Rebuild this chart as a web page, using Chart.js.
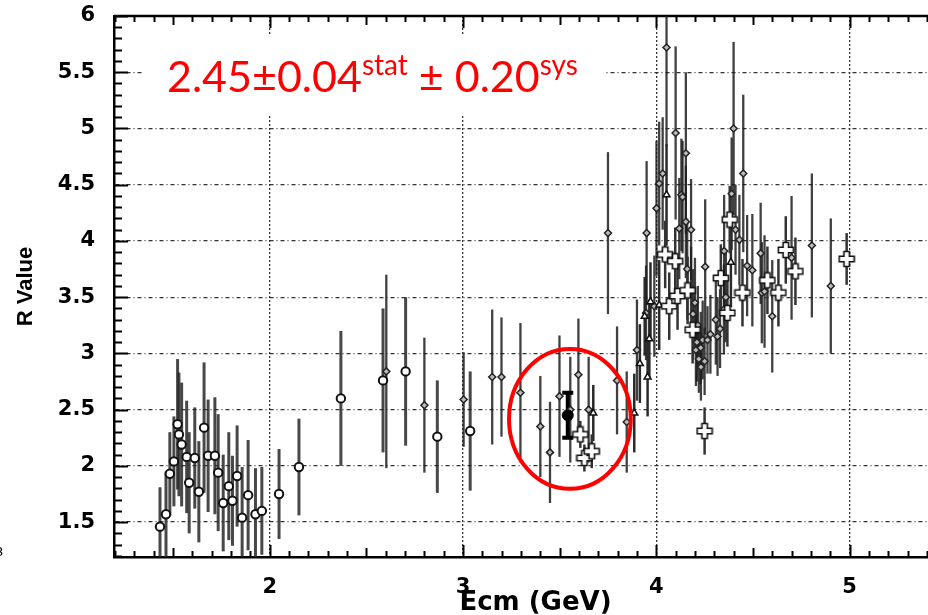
<!DOCTYPE html>
<html lang="en">
<head>
<meta charset="UTF-8">
<title>R Value vs Ecm</title>
<script src="https://cdn.jsdelivr.net/npm/chart.js"></script>
<style>
  html, body { margin: 0; padding: 0; overflow: hidden; background: #fff; }
  .wrap { position: relative; width: 966px; height: 625px; }
  .cut { position: absolute; left: -5px; top: 544px; font: 13px "DejaVu Sans"; color: #000; }
</style>
</head>
<body>
<div class="wrap">
  <canvas id="rChart" width="966" height="625"></canvas>
  <span class="cut">8</span>
</div>
<script>
// axis ranges and ticks
const xMin = 1.194, xMax = 5.556;
const yMin = 1.19, yMax = 6;
const xTicks = [2, 3, 4, 5];
const yTicks = [1.5, 2, 2.5, 3, 3.5, 4, 4.5, 5, 5.5, 6];

// open circles
const circleE = [1.432, 1.463, 1.483, 1.504, 1.523, 1.530, 1.544, 1.570, 1.583, 1.612, 1.633, 1.660, 1.681, 1.716, 1.733,
  1.759, 1.788, 1.807, 1.831, 1.857, 1.888, 1.926, 1.959, 2.048, 2.151, 2.368, 2.586, 2.703, 2.867, 3.037];
const circleR = [1.46, 1.57, 1.93, 2.04, 2.37, 2.28, 2.19, 2.08, 1.85, 2.07, 1.77, 2.34, 2.09, 2.09, 1.94,
  1.67, 1.82, 1.69, 1.91, 1.54, 1.74, 1.57, 1.60, 1.75, 1.99, 2.60, 2.76, 2.84, 2.26, 2.31];
const circleErr = [0.35, 0.38, 0.37, 0.40, 0.58, 0.55, 0.55, 0.50, 0.45, 0.45, 0.45, 0.58, 0.50, 0.52, 0.52,
  0.43, 0.48, 0.40, 0.45, 0.45, 0.49, 0.41, 0.39, 0.40, 0.43, 0.60, 0.64, 0.66, 0.50, 0.53];

// small diamonds
const diamondE = [2.603, 2.800, 3.003, 3.151, 3.199, 3.297, 3.400, 3.450, 3.499, 3.555, 3.597, 3.650, 3.750, 3.797, 3.847,
  3.900, 3.947, 3.950, 3.990, 4.001, 4.015, 4.033, 4.053, 4.100, 4.119, 4.130, 4.136, 4.153, 4.153, 4.160,
  4.180, 4.180, 4.190, 4.200, 4.205, 4.210, 4.215, 4.220, 4.230, 4.231, 4.240, 4.250, 4.253, 4.265, 4.280,
  4.308, 4.317, 4.330, 4.350, 4.351, 4.360, 4.390, 4.400, 4.410, 4.430, 4.450, 4.470, 4.497, 4.540, 4.546,
  4.560, 4.600, 4.700, 4.805, 4.903];
const diamondR = [2.84, 2.54, 2.59, 2.79, 2.79, 2.65, 2.35, 2.12, 2.62, 2.50, 2.81, 2.50, 4.07, 2.76, 2.39,
  3.03, 3.36, 4.07, 3.42, 4.29, 4.51, 4.60, 5.72, 4.96, 4.11, 4.41, 4.39, 4.78, 4.17, 3.75,
  4.10, 3.55, 3.35, 3.45, 3.03, 3.10, 3.25, 2.95, 3.05, 2.88, 3.12, 2.93, 3.77, 3.12, 3.17,
  3.30, 3.15, 3.22, 3.39, 3.91, 3.50, 4.42, 5.00, 4.10, 4.01, 4.60, 3.78, 3.74, 3.89, 3.54,
  3.55, 3.33, 3.85, 3.96, 3.60];
const diamondErr = [0.86, 0.60, 0.42, 0.60, 0.53, 0.62, 0.45, 0.45, 0.54, 0.47, 0.50, 0.47, 0.72, 0.48, 0.45,
  0.45, 0.42, 0.64, 0.45, 0.60, 0.55, 0.50, 0.88, 0.77, 0.45, 0.50, 0.50, 0.72, 0.50, 0.45,
  0.45, 0.40, 0.40, 0.40, 0.32, 0.35, 0.35, 0.30, 0.32, 0.30, 0.35, 0.30, 0.60, 0.30, 0.35,
  0.40, 0.35, 0.35, 0.40, 0.50, 0.40, 0.50, 0.77, 0.40, 0.40, 0.70, 0.45, 0.50, 0.45, 0.45,
  0.50, 0.50, 0.55, 0.64, 0.60];

// small triangles
const triE = [3.674, 3.886, 3.915, 3.940, 3.955, 3.964, 3.970, 4.015, 4.053, 4.386];
const triR = [2.47, 2.47, 2.91, 3.33, 2.79, 3.13, 3.46, 3.43, 4.41, 3.81];
const triErr = [0.25, 0.35, 0.35, 0.35, 0.35, 0.35, 0.35, 0.40, 0.45, 0.40];

// open crosses
const crossE = [3.607, 3.628, 3.666, 4.046, 4.067, 4.098, 4.110, 4.162, 4.188, 4.250,
  4.334, 4.368, 4.380, 4.446, 4.575, 4.632, 4.670, 4.720, 4.985];
const crossR = [2.28, 2.07, 2.13, 3.88, 3.42, 3.82, 3.51, 3.56, 3.21, 2.31,
  3.67, 3.36, 4.19, 3.54, 3.65, 3.54, 3.92, 3.73, 3.84];
const crossErr = [0.12, 0.12, 0.15, 0.30, 0.30, 0.30, 0.30, 0.30, 0.30, 0.21,
  0.30, 0.30, 0.30, 0.30, 0.30, 0.30, 0.30, 0.30, 0.23];

// the new measurement
const newE = [3.542];
const newR = [2.45];
const newErr = [0.20];

// red ring round the new point (data units)
const ringE = 3.553, ringR = 2.418, ringHalfE = 0.315, ringHalfR = 0.622;

function pts(xs, ys) {
  return xs.map((x, i) => ({ x: x, y: ys[i] }));
}

function plusMarker() {
  const c = document.createElement('canvas');
  c.width = 18; c.height = 18;
  const g = c.getContext('2d');
  const s = 9, L = 7.5, w = 2.7;
  g.beginPath();
  g.moveTo(s - w, s - L); g.lineTo(s + w, s - L); g.lineTo(s + w, s - w); g.lineTo(s + L, s - w);
  g.lineTo(s + L, s + w); g.lineTo(s + w, s + w); g.lineTo(s + w, s + L); g.lineTo(s - w, s + L);
  g.lineTo(s - w, s + w); g.lineTo(s - L, s + w); g.lineTo(s - L, s - w); g.lineTo(s - w, s - w);
  g.closePath();
  g.fillStyle = '#fff';
  g.fill();
  g.lineWidth = 1.6;
  g.strokeStyle = '#111';
  g.stroke();
  return c;
}

// vertical error bars, drawn under the markers
const errorBars = {
  id: 'errorBars',
  beforeDatasetsDraw(chart) {
    const { ctx, chartArea: a, scales: { x, y } } = chart;
    ctx.save();
    ctx.beginPath();
    ctx.rect(a.left, a.top, a.right - a.left, a.bottom - a.top);
    ctx.clip();
    const sets = chart.data.datasets.slice().reverse();
    sets.forEach(ds => {
      ctx.strokeStyle = ds.barColor;
      ctx.lineWidth = ds.barWidth;
      ds.data.forEach((p, i) => {
        const px = x.getPixelForValue(p.x);
        const top = y.getPixelForValue(p.y + ds.errs[i]);
        const bot = y.getPixelForValue(p.y - ds.errs[i]);
        ctx.beginPath();
        ctx.moveTo(px, top);
        ctx.lineTo(px, bot);
        if (ds.capWidth) {
          ctx.moveTo(px - ds.capWidth / 2, top);
          ctx.lineTo(px + ds.capWidth / 2, top);
          ctx.moveTo(px - ds.capWidth / 2, bot);
          ctx.lineTo(px + ds.capWidth / 2, bot);
        }
        ctx.stroke();
      });
    });
    ctx.restore();
  }
};

// top frame line, inner minor ticks and the white box behind the label
const frame = {
  id: 'frame',
  beforeDatasetsDraw(chart) {
    const { ctx, chartArea: a, scales: { x, y } } = chart;
    ctx.save();
    ctx.fillStyle = '#fff';
    ctx.fillRect(a.left + 29, a.top + 18, 462, 80);

    ctx.strokeStyle = '#000';
    ctx.lineWidth = 2;
    ctx.beginPath();
    for (let i = Math.ceil(yMin * 10); i <= yMax * 10; i++) {
      const py = Math.round(y.getPixelForValue(i / 10)) + 0.5;
      const len = i % 5 === 0 ? 14 : 8;
      ctx.moveTo(a.left, py);
      ctx.lineTo(a.left + len, py);
    }
    for (let i = Math.ceil(xMin * 10); i <= xMax * 10; i++) {
      const px = Math.round(x.getPixelForValue(i / 10)) + 0.5;
      const len = i % 10 === 0 ? 12 : (i % 5 === 0 ? 9 : 6);
      ctx.moveTo(px, a.bottom);
      ctx.lineTo(px, a.bottom - len);
      ctx.moveTo(px, a.top);
      ctx.lineTo(px, a.top + len);
    }
    ctx.stroke();

    ctx.lineWidth = 2.5;
    ctx.beginPath();
    ctx.moveTo(a.left, a.top);
    ctx.lineTo(a.right, a.top);
    ctx.stroke();
    ctx.restore();
  }
};

// red ring and the red result text
const note = {
  id: 'note',
  afterDatasetsDraw(chart) {
    const { ctx, chartArea: a, scales: { x, y } } = chart;
    ctx.save();
    const cx = x.getPixelForValue(ringE);
    const cy = y.getPixelForValue(ringR);
    const rx = x.getPixelForValue(ringE + ringHalfE) - cx;
    const ry = cy - y.getPixelForValue(ringR + ringHalfR);
    ctx.strokeStyle = '#ff0000';
    ctx.lineWidth = 4;
    ctx.beginPath();
    ctx.ellipse(cx, cy, rx, ry, 0, 0, Math.PI * 2);
    ctx.stroke();

    ctx.fillStyle = '#ff0000';
    ctx.textBaseline = 'alphabetic';
    const base = a.top + 76;
    let tx = a.left + 53;
    const parts = [
      ['2.45\u00b10.04', '43px Lato', 0],
      ['stat', '28px Lato', -17],
      [' \u00b1 0.20', '43px Lato', 0],
      ['sys', '28px Lato', -17]
    ];
    parts.forEach(([t, f, dy]) => {
      ctx.font = f;
      ctx.fillText(t, tx, base + dy);
      tx += ctx.measureText(t).width;
    });
    ctx.restore();
  }
};

const tickFont = { family: 'DejaVu Sans', size: 21, weight: 'bold' };

new Chart(document.getElementById('rChart').getContext('2d'), {
  type: 'scatter',
  data: {
    datasets: [
      {
        label: 'new', data: pts(newE, newR), errs: newErr,
        barColor: '#000', barWidth: 4, capWidth: 11,
        pointStyle: 'circle', pointRadius: 5.5, backgroundColor: '#000', borderColor: '#000', borderWidth: 1
      },
      {
        label: 'crosses', data: pts(crossE, crossR), errs: crossErr,
        barColor: '#333', barWidth: 2.5,
        pointStyle: plusMarker(), pointRadius: 8
      },
      {
        label: 'triangles', data: pts(triE, triR), errs: triErr,
        barColor: '#2a2a2a', barWidth: 2.5,
        pointStyle: 'triangle', pointRadius: 4, backgroundColor: '#fff', borderColor: '#111', borderWidth: 1.5
      },
      {
        label: 'diamonds', data: pts(diamondE, diamondR), errs: diamondErr,
        barColor: 'rgba(30,30,30,0.85)', barWidth: 2.3,
        pointStyle: 'rectRot', pointRadius: 3.5, backgroundColor: '#bbb', borderColor: '#222', borderWidth: 1.5
      },
      {
        label: 'circles', data: pts(circleE, circleR), errs: circleErr,
        barColor: 'rgba(40,40,40,0.85)', barWidth: 3,
        pointStyle: 'circle', pointRadius: 4.2, backgroundColor: '#fff', borderColor: '#111', borderWidth: 2
      }
    ]
  },
  options: {
    responsive: false,
    animation: false,
    devicePixelRatio: 1,
    layout: { padding: { top: 16, right: 0, bottom: 0, left: 0 } },
    plugins: { legend: { display: false }, tooltip: { enabled: false } },
    scales: {
      x: {
        type: 'linear', min: xMin, max: xMax,
        afterBuildTicks: s => { s.ticks = xTicks.map(v => ({ value: v })); },
        afterFit: s => { s.height = 68; },
        grid: { color: '#333', lineWidth: 1.3, drawTicks: true, tickLength: 15, tickColor: 'rgba(0,0,0,0)' },
        border: { display: true, color: '#000', width: 2.5, dash: [2, 2] },
        ticks: { color: '#000', font: tickFont, padding: 3, callback: v => String(v) },
        title: {
          display: true, text: 'Ecm (GeV)', color: '#000',
          font: { family: 'DejaVu Sans', size: 26, weight: 'bold', lineHeight: 1.2 },
          padding: { top: 0, bottom: 6 }
        }
      },
      y: {
        type: 'linear', min: yMin, max: yMax,
        afterBuildTicks: s => { s.ticks = yTicks.map(v => ({ value: v })); },
        afterFit: s => { s.width = 114; },
        grid: { color: '#333', lineWidth: 1.3, drawTicks: true, tickLength: 16, tickColor: 'rgba(0,0,0,0)' },
        border: { display: true, color: '#000', width: 2.5, dash: [4, 3, 1, 3] },
        ticks: { color: '#000', font: tickFont, padding: 3, callback: v => String(v) },
        title: {
          display: true, text: 'R Value', color: '#000',
          font: { family: 'Liberation Sans', size: 22, weight: 'bold', lineHeight: 1.2 },
          padding: { top: 13, bottom: 0 }
        }
      }
    }
  },
  plugins: [frame, errorBars, note]
});
</script>
</body>
</html>
